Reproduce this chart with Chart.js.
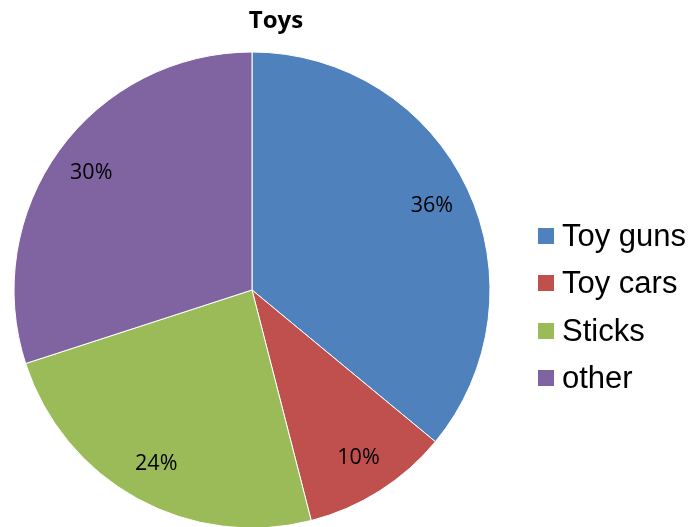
<!DOCTYPE html>
<html>
<head>
<meta charset="utf-8">
<script src="https://cdn.jsdelivr.net/npm/chart.js@4"></script>
<style>
  html, body { margin: 0; padding: 0; background: #ffffff; }
  #wrap { width: 695px; height: 527px; position: relative; }
</style>
</head>
<body>
<div id="wrap"><canvas id="c" width="695" height="527"></canvas></div>
<script>
const chartTitle = 'Toys';
const categories = ['Toy guns', 'Toy cars', 'Sticks', 'other'];
const shares = [36, 10, 24, 30];
const sliceColors = ['#4F81BD', '#C0504D', '#9BBB59', '#8064A2'];

// Title, percentage labels and legend drawn on the canvas
const labelPlugin = {
  id: 'pieText',
  afterDatasetsDraw(chart) {
    const ctx = chart.ctx;
    const meta = chart.getDatasetMeta(0);
    ctx.save();
    ctx.fillStyle = '#000000';
    ctx.textAlign = 'center';
    ctx.textBaseline = 'middle';
    ctx.font = '21.5px "Open Sans"';
    meta.data.forEach((arc, i) => {
      const p = arc.getProps(['x', 'y', 'startAngle', 'endAngle', 'outerRadius'], true);
      const mid = (p.startAngle + p.endAngle) / 2;
      const r = p.outerRadius * 0.835;
      ctx.fillText(shares[i] + '%', p.x + Math.cos(mid) * r, p.y + Math.sin(mid) * r);
    });
    ctx.font = 'bold 24px "Open Sans"';
    ctx.textBaseline = 'alphabetic';
    ctx.fillText(chartTitle, 276, 28);

    // legend
    ctx.textAlign = 'left';
    ctx.textBaseline = 'middle';
    ctx.font = '31px Arial, "Liberation Sans"';
    const rowY = [236, 283, 331, 378];
    categories.forEach((name, i) => {
      ctx.fillStyle = sliceColors[i];
      ctx.fillRect(538, rowY[i] - 8, 16, 16);
      ctx.fillStyle = '#000000';
      ctx.fillText(name, 562, rowY[i] + 1);
    });
    ctx.restore();
  }
};

new Chart(document.getElementById('c'), {
  type: 'pie',
  data: {
    labels: categories,
    datasets: [{
      data: shares,
      backgroundColor: sliceColors,
      borderColor: '#ffffff',
      borderWidth: 1,
      radius: 238,
      clip: false
    }]
  },
  options: {
    responsive: false,
    animation: false,
    layout: { padding: { left: 0, right: 191, top: 53, bottom: 0 } },
    plugins: {
      legend: { display: false },
      title: { display: false },
      tooltip: { enabled: false }
    }
  },
  plugins: [labelPlugin]
});
</script>
</body>
</html>
